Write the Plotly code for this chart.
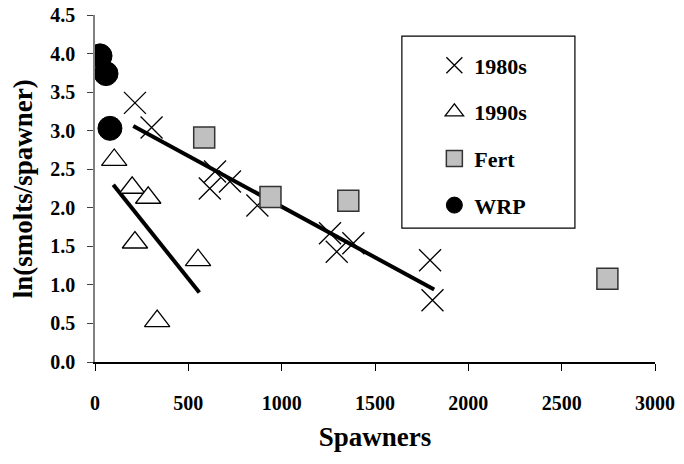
import plotly.graph_objects as go

x_1980s = [214, 303, 615, 643, 723, 870, 1259, 1295, 1384, 1795, 1808]
y_1980s = [3.36, 3.04, 2.25, 2.47, 2.34, 2.03, 1.67, 1.43, 1.54, 1.32, 0.80]

x_1990s = [103, 199, 285, 214, 552, 333]
y_1990s = [2.62, 2.26, 2.13, 1.55, 1.32, 0.53]

x_fert = [585, 940, 1357, 2745]
y_fert = [2.91, 2.14, 2.09, 1.08]

x_wrp = [27, 59, 80]
y_wrp = [3.97, 3.74, 3.03]

# fitted lines (end points as drawn)
fit80_x = [205, 1817]
fit80_y = [3.06, 0.94]
fit90_x = [98, 559]
fit90_y = [2.30, 0.90]

FONT = "Liberation Serif"

fig = go.Figure()

fig.add_trace(go.Scatter(
    x=fit80_x, y=fit80_y, mode='lines',
    line=dict(color='black', width=4), showlegend=False, hoverinfo='skip'))
fig.add_trace(go.Scatter(
    x=fit90_x, y=fit90_y, mode='lines',
    line=dict(color='black', width=4), showlegend=False, hoverinfo='skip'))

fig.add_trace(go.Scatter(
    x=x_1980s, y=y_1980s, mode='markers', name='1980s', legendgroup='a',
    marker=dict(symbol='x-thin-open', size=22, color='black',
                line=dict(color='black', width=1.3))))
fig.add_trace(go.Scatter(
    x=x_1990s, y=y_1990s, mode='markers', name='1990s', legendgroup='b',
    marker=dict(symbol='triangle-up', size=22, color='white',
                line=dict(color='black', width=1.3))))
fig.add_trace(go.Scatter(
    x=x_fert, y=y_fert, mode='markers', name='Fert', legendgroup='c',
    marker=dict(symbol='square', size=21, color='#c0c0c0',
                line=dict(color='#333333', width=1.5))))
fig.add_trace(go.Scatter(
    x=x_wrp, y=y_wrp, mode='markers', name='WRP', legendgroup='d',
    marker=dict(symbol='circle', size=24, color='black',
                line=dict(color='black', width=1))))

fig.update_layout(
    width=684, height=464,
    margin=dict(l=95, r=29, t=15, b=102, autoexpand=False),
    paper_bgcolor='white', plot_bgcolor='white',
    font=dict(family=FONT, color='black', size=20, weight='bold'),
    xaxis=dict(
        range=[0, 3000], dtick=500, tick0=0, automargin=False,
        showgrid=False, zeroline=False,
        showline=True, linecolor='black', linewidth=1.5,
        ticks='outside', ticklen=7, tickcolor='black', tickwidth=1.3,
        ticklabelstandoff=15,
        title=dict(text='Spawners', font=dict(size=27, family=FONT, weight='bold'),
                   standoff=14),
    ),
    yaxis=dict(
        range=[0, 4.5], dtick=0.5, tick0=0, tickformat='.1f', automargin=False,
        showgrid=False, zeroline=False,
        showline=True, linecolor='#808080', linewidth=1.5,
        ticks='outside', ticklen=6, tickcolor='#404040', tickwidth=1.3,
        ticklabelstandoff=8,
    ),
    legend=dict(
        x=0.606, y=0.915, xanchor='left', yanchor='top',
        bgcolor='rgba(0,0,0,0)', borderwidth=0,
        font=dict(size=22, family=FONT, weight='bold'),
        tracegroupgap=15,
    ),
    shapes=[dict(type='rect', xref='paper', yref='paper',
                 x0=0.548, x1=0.857, y0=0.386, y1=0.939,
                 line=dict(color='black', width=1.2), fillcolor='white', layer='below')],
    annotations=[dict(text='ln(smolts/spawner)', textangle=-90, showarrow=False,
                      xref='paper', yref='paper', x=-0.129, y=0.50,
                      xanchor='center', yanchor='middle',
                      font=dict(size=27, family=FONT, weight='bold'))],
)

# page body margin would shift the figure by 8px
fig.write_html("out.html", config={'displayModeBar': False},
               post_script="document.body.style.margin='0';")
